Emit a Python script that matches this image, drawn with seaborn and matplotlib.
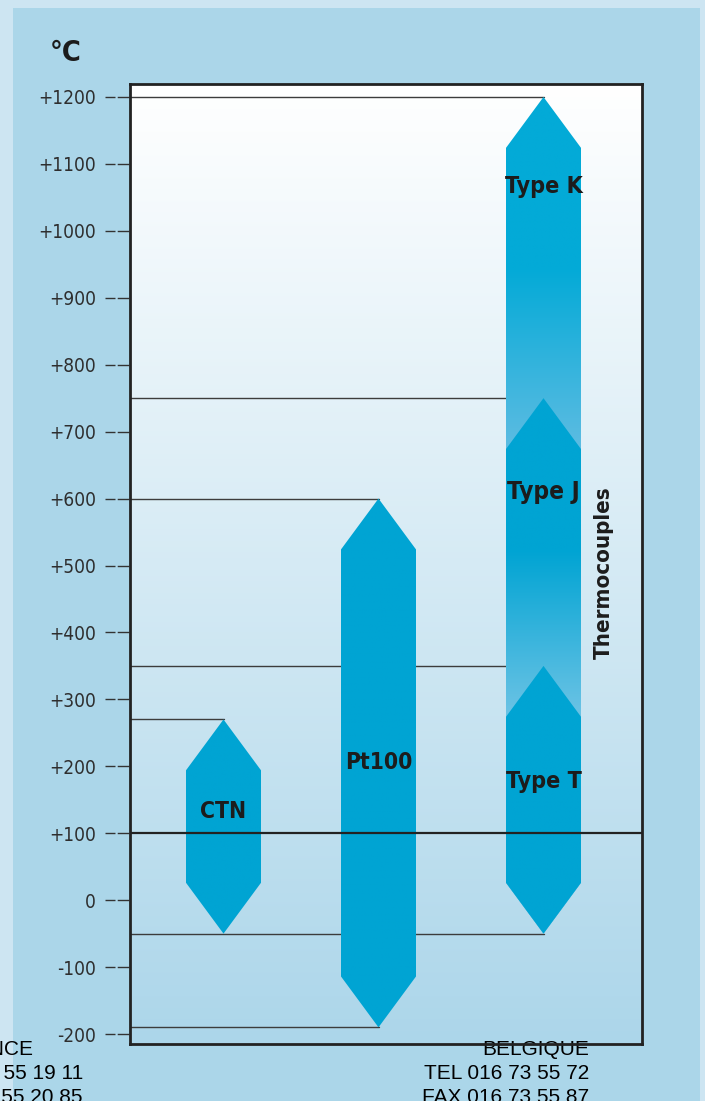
import os
import numpy as np
import pandas as pd
import matplotlib
matplotlib.use("Agg")
import matplotlib.pyplot as plt
from matplotlib.colors import to_rgb
from matplotlib.patches import Polygon, Rectangle
from matplotlib import font_manager
from matplotlib.font_manager import FontProperties
import seaborn as sns

# ---- data -----------------------------------------------------------------
# Measuring ranges of the sensors, in °C
sensors = ["CTN", "Pt100", "Type K", "Type J", "Type T"]
range_low = [-50, -190, -50, -50, -50]
range_high = [270, 600, 1200, 750, 350]
sensor_column = [0, 1, 2, 2, 2]          # column each range is drawn in
group_label = "Thermocouples"

# Temperature axis
tick_values = list(range(-200, 1201, 100))
tick_labels = [("+%d" % v) if v > 0 else ("%d" % v) for v in tick_values]
unit_label = "°C"
reference_temp = 100

# Guide lines: temperature and the column whose tip they point to
guide_values = [1200, 750, 600, 350, 270, -50, -190]
guide_column = [2, 2, 1, 2, 0, 2, 1]

footer_left = ["FRANCE", "TEL 03 20 55 19 11", "FAX 03 20 55 20 85"]
footer_right = ["BELGIQUE", "TEL 016 73 55 72", "FAX 016 73 55 87"]

# ---- fonts ----------------------------------------------------------------
sns.set_theme(style="white")
plt.rcParams["font.family"] = ["Liberation Sans", "DejaVu Sans"]


def narrow_font(bold):
    """Pick a condensed face if one is installed, else a compact sans."""
    files = [f.fname for f in font_manager.fontManager.ttflist]
    wanted = (["liberationsansnarrow-bold.ttf", "dejavusanscondensed-bold.ttf"] if bold
              else ["liberationsansnarrow-regular.ttf", "dejavusanscondensed.ttf"])
    for w in wanted:
        for path in files:
            if os.path.basename(path).lower() == w:
                return FontProperties(fname=path)
    return FontProperties(family=["Roboto", "Liberation Sans"],
                          weight="bold" if bold else "normal")


FONT_BOLD = narrow_font(True)
FONT_REG = narrow_font(False)

# ---- style / layout -------------------------------------------------------
W, H = 705, 1101
DARK = np.array(to_rgb("#00a4d3"))
DARK_K = np.array(to_rgb("#03aad7"))
LIGHT_K = np.array(to_rgb("#5dbce2"))
LIGHT_J = np.array(to_rgb("#6cc3e5"))
# fade (value fully dark, value fully light) for the stacked thermocouples
fades = {"Type K": (945, 676, DARK_K, LIGHT_K),
         "Type J": (523, 276, DARK, LIGHT_J)}

col_center = [93.5, 248.5, 413.5]       # axes x units (xlim 0..512)
half_w = 37.5
tip = 76                                # height of the pointed ends, °C
# label position and its printed width in pixels
label_pos = {"CTN": (93.5, 132, 46), "Pt100": (248.5, 206, 67),
             "Type K": (413.5, 1067, 78), "Type J": (413.5, 610, 73),
             "Type T": (413.5, 178, 76)}

fig = plt.figure(figsize=(W / 100, H / 100), dpi=100)
fig.patch.set_facecolor("#cde5f2")
fig.patches.append(Rectangle((13 / W, 0), (700 - 13) / W, (H - 8) / H,
                             transform=fig.transFigure, facecolor="#abd6e9",
                             edgecolor="none", zorder=-1))

ax = fig.add_axes([130 / W, 1 - 1044 / H, 512 / W, 960 / H])
XLIM = (0, 512)
YLIM = (-214.9, 1219.4)

# plot background: white at the top fading to light blue
n = 300
frac = np.linspace(0, 1, n)[:, None]
bottom_c, top_c = np.array(to_rgb("#acd6ea")), np.array(to_rgb("#ffffff"))
bg = (bottom_c * (1 - frac) + top_c * frac)[:, None, :]
ax.imshow(bg, extent=[XLIM[0], XLIM[1], YLIM[0], YLIM[1]], origin="lower",
          aspect="auto", zorder=0, interpolation="bilinear")


def draw_range(name, lo, hi, xc, z):
    verts = [(xc - half_w, lo + tip), (xc, lo), (xc + half_w, lo + tip),
             (xc + half_w, hi - tip), (xc, hi), (xc - half_w, hi - tip)]
    poly = Polygon(verts, closed=True, facecolor="none", edgecolor="none", zorder=z)
    ax.add_patch(poly)
    yy = np.linspace(lo, hi, 600)
    if name in fades:
        v_dark, v_light, c_dark, c_light = fades[name]
        f = np.clip((v_dark - yy) / (v_dark - v_light), 0, 1)[:, None]
        cols = c_dark * (1 - f) + c_light * f
    else:
        cols = np.tile(DARK, (len(yy), 1))
    im = ax.imshow(cols[:, None, :], extent=[xc - half_w, xc + half_w, lo, hi],
                   origin="lower", aspect="auto", zorder=z, interpolation="bilinear")
    im.set_clip_path(poly)


for i, (name, lo, hi, c) in enumerate(zip(sensors, range_low, range_high, sensor_column)):
    draw_range(name, lo, hi, col_center[c], 4 + 0.1 * i)

# guide lines from the axis to the tip of each range
rows = []
for g, (v, c) in enumerate(zip(guide_values, guide_column)):
    rows.append(dict(guide=g, x=XLIM[0], temp=v))
    rows.append(dict(guide=g, x=col_center[c], temp=v))
sns.lineplot(data=pd.DataFrame(rows), x="x", y="temp", units="guide",
             estimator=None, sort=False, color="#3c3c3c", linewidth=1.0,
             ax=ax, legend=False, zorder=3)

ax.axhline(reference_temp, color="#222222", lw=1.6, zorder=7)

fitted = []   # (text, target width px, use height)
for name, (x, y, wpx) in label_pos.items():
    t = ax.text(x, y, name, ha="center", va="center", fontproperties=FONT_BOLD,
                fontsize=19, color="#1c1c1c", zorder=8)
    fitted.append((t, wpx, False))
t = ax.text(474, 490, group_label, rotation=90, ha="center", va="center",
            fontproperties=FONT_BOLD, fontsize=19.5, color="#1c1c1c", zorder=8)
fitted.append((t, 172, True))

ax.set_xlim(*XLIM)
ax.set_ylim(*YLIM)
ax.set_xlabel("")
ax.set_ylabel("")
ax.set_xticks([])
ax.set_yticks(tick_values, tick_labels)
ax.tick_params(axis="y", length=0, pad=24.5, labelcolor="#2e2e2e")
for lbl in ax.get_yticklabels():
    lbl.set_fontproperties(FONT_REG)
    lbl.set_fontsize(16)
for sp in ax.spines.values():
    sp.set_visible(True)
    sp.set_color("#222222")
    sp.set_linewidth(2.0)
    sp.set_zorder(9)

# double-dash tick marks left of the axis
for v in tick_values:
    ax.plot([-25 / 512, -1.5 / 512], [v, v], transform=ax.get_yaxis_transform(),
            clip_on=False, color="#333333", lw=1.0, dashes=(7.2, 1.6, 9.0, 4.0),
            solid_capstyle="butt", dash_capstyle="butt", zorder=9)

t = fig.text(66 / W, 1 - 53 / H, unit_label, ha="center", va="center",
             fontproperties=FONT_BOLD, fontsize=21.5, color="#1c1c1c")
fitted.append((t, 32, False))

# footer addresses, running under the frame
for lines, xr in ((footer_left, [33, 83, 83]), (footer_right, [589, 589, 589])):
    for k, s in enumerate(lines):
        ax.text(xr[k] / W, 1 - (1055 + 24 * k) / H, s, transform=fig.transFigure,
                ha="right", va="baseline", fontsize=15, family="Liberation Sans",
                color="black", clip_on=False, zorder=2)

# size the condensed labels to their printed widths
fig.canvas.draw()
renderer = fig.canvas.get_renderer()
for t, wpx, vertical in fitted:
    bb = t.get_window_extent(renderer)
    cur = bb.height if vertical else bb.width
    t.set_fontsize(t.get_fontsize() * wpx / cur)

ticks = ax.get_yticklabels()
ref = [l for l in ticks if l.get_text() == "+1200"][0]
scale = 58 / ref.get_window_extent(renderer).width
for l in ticks:
    l.set_fontsize(l.get_fontsize() * scale)

fig.savefig("out.png", dpi=100, facecolor=fig.get_facecolor())
